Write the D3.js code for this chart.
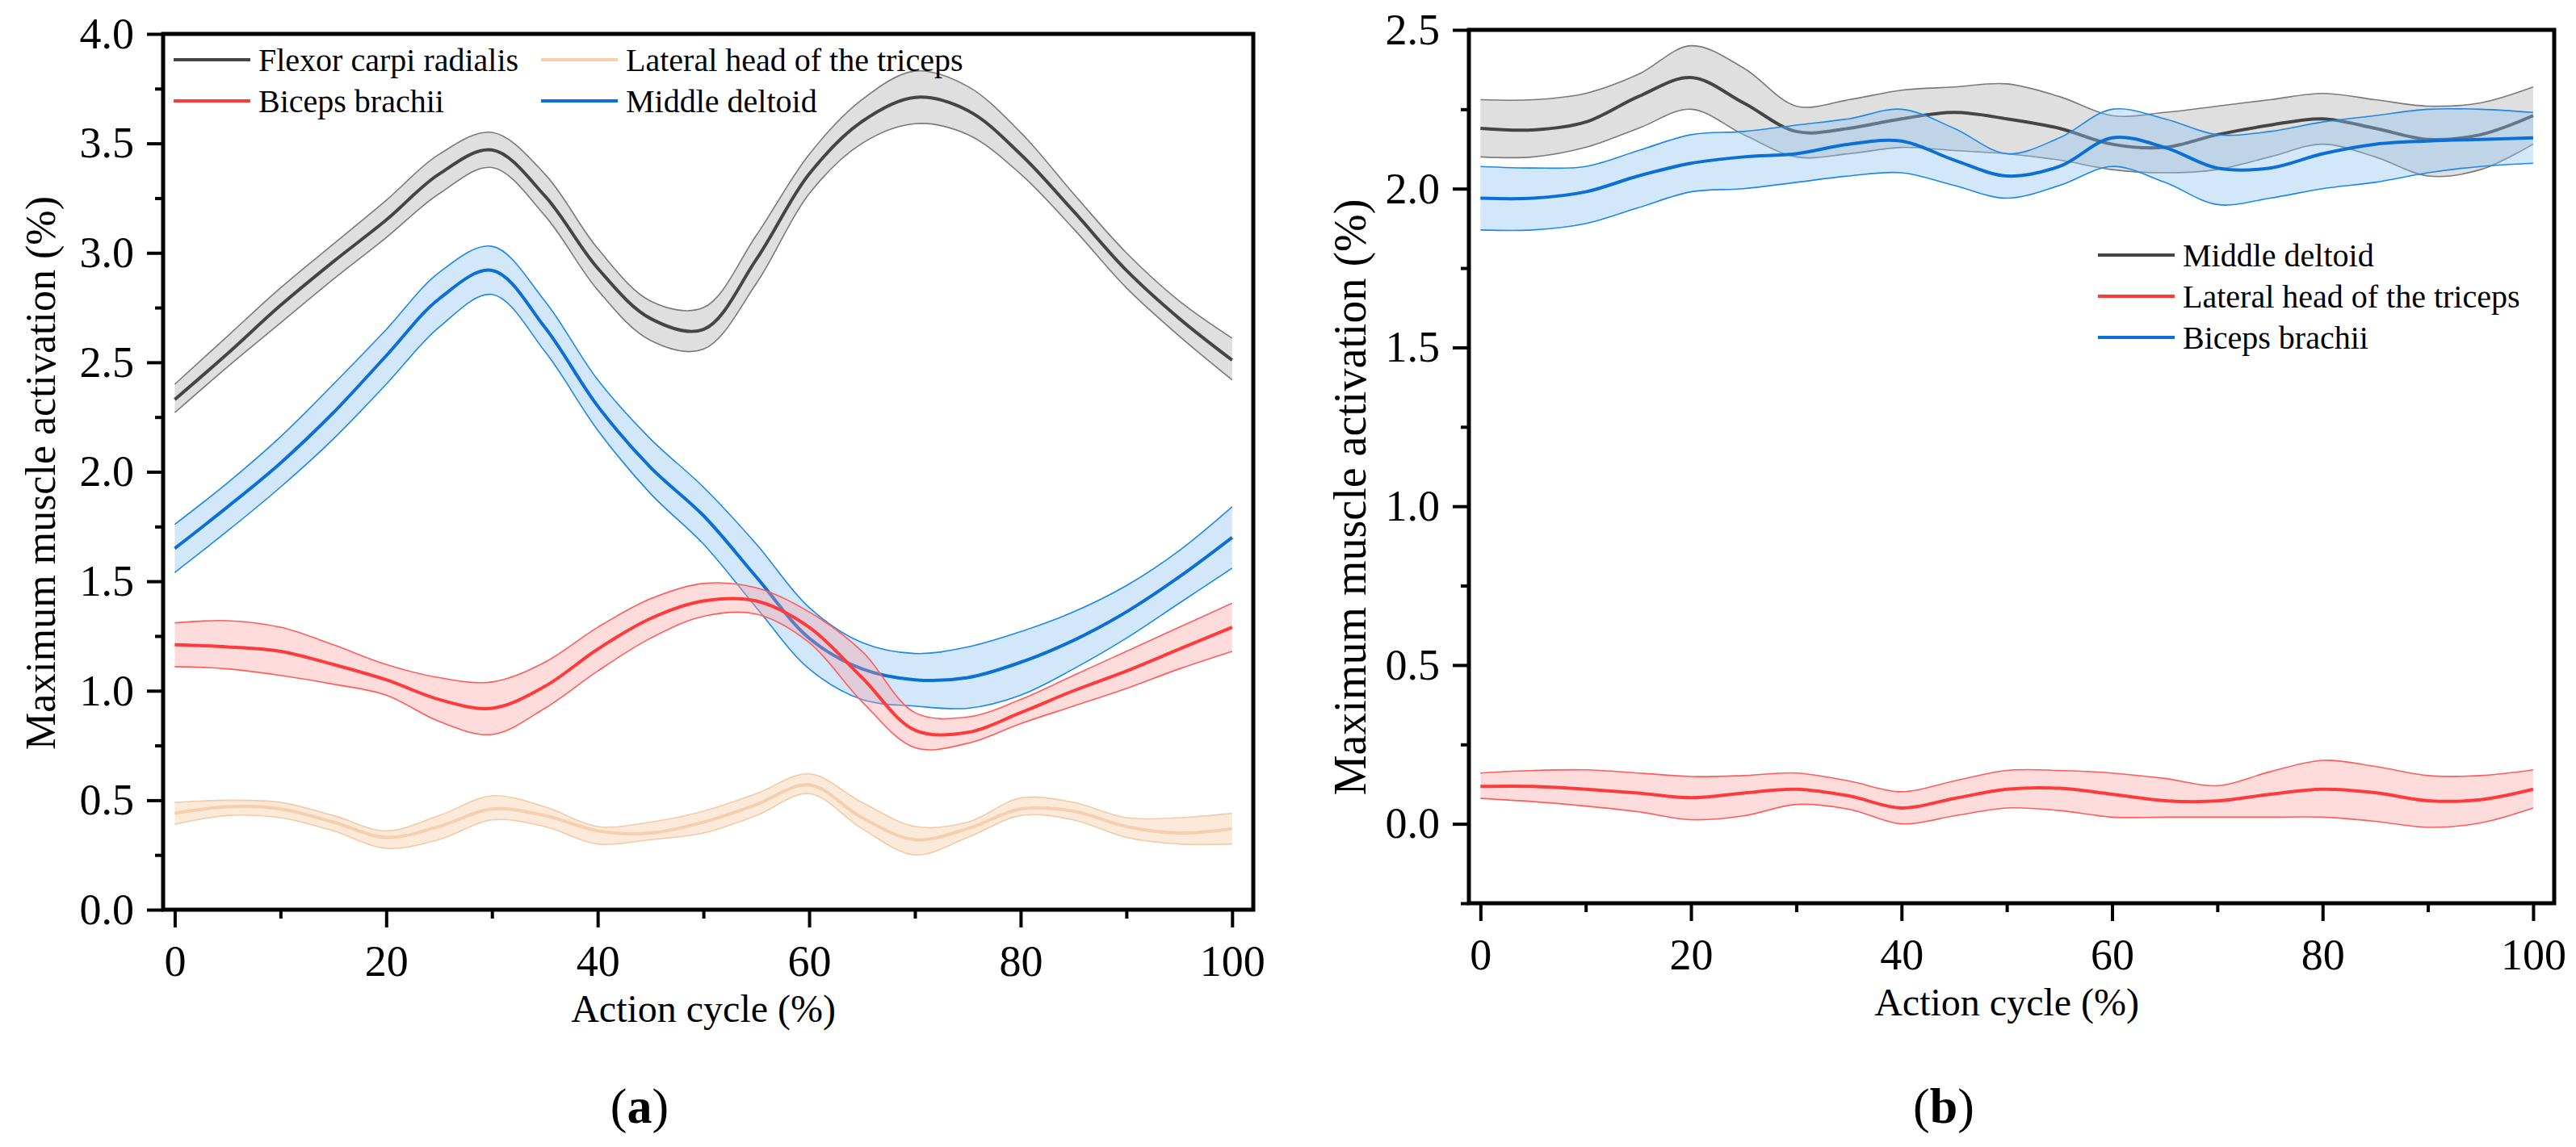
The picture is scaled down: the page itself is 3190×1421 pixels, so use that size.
<!DOCTYPE html>
<html>
<head>
<meta charset="utf-8">
<script src="https://cdn.jsdelivr.net/npm/d3@7"></script>
<style>
  body { margin: 0; background: #fff; }
</style>
</head>
<body>
<div id="chart"></div>
<script>
// Action cycle sample points (%)
var cycle = [0, 5, 10, 15, 20, 25, 30, 35, 40, 45, 50, 55, 60, 65, 70, 75, 80, 85, 90, 95, 100];

// Panel (a)
var flexorMean  = [2.33, 2.54, 2.76, 2.96, 3.15, 3.36, 3.47, 3.26, 2.93, 2.70, 2.65, 2.97, 3.36, 3.60, 3.71, 3.65, 3.45, 3.19, 2.92, 2.70, 2.51];
var flexorUpper = [2.40, 2.62, 2.84, 3.04, 3.24, 3.45, 3.55, 3.36, 3.02, 2.78, 2.75, 3.08, 3.45, 3.70, 3.83, 3.76, 3.55, 3.27, 3.00, 2.78, 2.61];
var flexorLower = [2.27, 2.48, 2.68, 2.88, 3.07, 3.27, 3.39, 3.17, 2.83, 2.60, 2.56, 2.86, 3.27, 3.50, 3.59, 3.54, 3.36, 3.11, 2.84, 2.62, 2.42];

var deltoidMean  = [1.65, 1.84, 2.04, 2.27, 2.53, 2.79, 2.92, 2.66, 2.30, 2.02, 1.80, 1.52, 1.24, 1.10, 1.05, 1.06, 1.13, 1.23, 1.36, 1.52, 1.70];
var deltoidUpper = [1.76, 1.95, 2.16, 2.40, 2.65, 2.91, 3.03, 2.78, 2.42, 2.15, 1.93, 1.67, 1.38, 1.22, 1.17, 1.20, 1.27, 1.36, 1.48, 1.64, 1.84];
var deltoidLower = [1.54, 1.73, 1.93, 2.15, 2.40, 2.66, 2.81, 2.55, 2.19, 1.90, 1.67, 1.38, 1.10, 0.96, 0.93, 0.92, 0.98, 1.10, 1.24, 1.40, 1.56];

var bicepsMean  = [1.21, 1.20, 1.18, 1.12, 1.05, 0.96, 0.92, 1.02, 1.19, 1.33, 1.41, 1.41, 1.29, 1.06, 0.82, 0.81, 0.90, 1.00, 1.09, 1.19, 1.29];
var bicepsUpper = [1.31, 1.32, 1.29, 1.21, 1.12, 1.06, 1.04, 1.13, 1.29, 1.42, 1.49, 1.47, 1.36, 1.18, 0.90, 0.88, 0.96, 1.07, 1.18, 1.29, 1.40];
var bicepsLower = [1.11, 1.10, 1.07, 1.03, 0.98, 0.86, 0.80, 0.92, 1.09, 1.24, 1.34, 1.35, 1.22, 0.95, 0.74, 0.76, 0.85, 0.93, 1.01, 1.10, 1.18];

var tricepsMean  = [0.44, 0.47, 0.46, 0.40, 0.33, 0.38, 0.46, 0.43, 0.36, 0.35, 0.40, 0.48, 0.57, 0.42, 0.32, 0.37, 0.46, 0.45, 0.38, 0.35, 0.37];
var tricepsUpper = [0.49, 0.50, 0.49, 0.43, 0.36, 0.43, 0.52, 0.47, 0.38, 0.40, 0.45, 0.53, 0.62, 0.49, 0.38, 0.40, 0.51, 0.49, 0.42, 0.42, 0.44];
var tricepsLower = [0.39, 0.43, 0.42, 0.36, 0.28, 0.32, 0.41, 0.38, 0.30, 0.32, 0.35, 0.43, 0.53, 0.37, 0.25, 0.33, 0.43, 0.41, 0.33, 0.30, 0.30];

// Panel (b)
var bDeltoidMean  = [2.19, 2.185, 2.21, 2.29, 2.35, 2.27, 2.18, 2.19, 2.22, 2.24, 2.22, 2.19, 2.14, 2.13, 2.17, 2.20, 2.22, 2.19, 2.155, 2.17, 2.23];
var bDeltoidUpper = [2.28, 2.28, 2.30, 2.36, 2.45, 2.38, 2.26, 2.28, 2.31, 2.32, 2.33, 2.29, 2.23, 2.24, 2.26, 2.28, 2.30, 2.28, 2.26, 2.27, 2.32];
var bDeltoidLower = [2.10, 2.10, 2.13, 2.19, 2.25, 2.17, 2.10, 2.11, 2.13, 2.12, 2.11, 2.09, 2.06, 2.05, 2.06, 2.10, 2.14, 2.10, 2.04, 2.06, 2.14];

var bTricepsMean  = [0.118, 0.118, 0.109, 0.097, 0.082, 0.097, 0.109, 0.088, 0.050, 0.080, 0.109, 0.112, 0.093, 0.073, 0.072, 0.093, 0.109, 0.098, 0.073, 0.076, 0.109];
var bTricepsUpper = [0.160, 0.168, 0.170, 0.160, 0.149, 0.152, 0.160, 0.135, 0.101, 0.135, 0.168, 0.168, 0.160, 0.143, 0.120, 0.164, 0.200, 0.181, 0.152, 0.152, 0.170];
var bTricepsLower = [0.080, 0.070, 0.056, 0.038, 0.013, 0.025, 0.061, 0.046, 0.000, 0.025, 0.050, 0.042, 0.021, 0.021, 0.021, 0.021, 0.021, 0.008, -0.011, 0.003, 0.050];

var bBicepsMean  = [1.97, 1.97, 1.99, 2.04, 2.08, 2.10, 2.11, 2.14, 2.15, 2.09, 2.04, 2.07, 2.16, 2.13, 2.065, 2.065, 2.11, 2.14, 2.15, 2.155, 2.16];
var bBicepsUpper = [2.07, 2.065, 2.07, 2.12, 2.17, 2.18, 2.20, 2.22, 2.25, 2.19, 2.11, 2.16, 2.25, 2.22, 2.17, 2.18, 2.21, 2.23, 2.25, 2.25, 2.24];
var bBicepsLower = [1.87, 1.87, 1.89, 1.94, 1.99, 2.00, 2.02, 2.04, 2.05, 2.01, 1.97, 2.01, 2.07, 2.02, 1.95, 1.97, 2.00, 2.02, 2.05, 2.07, 2.08];

// Tick labels
var xTicks = [0, 20, 40, 60, 80, 100];
var xMinorTicks = [10, 30, 50, 70, 90];
var yTicksA = [0, 0.5, 1, 1.5, 2, 2.5, 3, 3.5, 4];
var yTicksB = [0, 0.5, 1, 1.5, 2, 2.5];

// Colours per muscle: line, band fill, band edge
var styles = {
  gray:  { line: "#454545", fill: "#c4c4c4", fillOpacity: 0.55, edge: "#7a7a7a" },
  blue:  { line: "#0a6fd6", fill: "#8ec3f3", fillOpacity: 0.4,  edge: "#1e88e8" },
  red:   { line: "#ff3a3a", fill: "#ff9a9a", fillOpacity: 0.35, edge: "#ff5c5c" },
  peach: { line: "#f5cfae", fill: "#f6c9a0", fillOpacity: 0.4,  edge: "#f3cba8" }
};

var width = 3190, height = 1421;

var svg = d3.select("#chart")
    .append("svg")
    .attr("width", width)
    .attr("height", height);

function drawPanel(p) {
    var x = d3.scaleLinear().domain([-1.1, 102]).range([p.left, p.right]);
    var y = d3.scaleLinear().domain(p.yDomain).range([p.bottom, p.top]);
    var g = svg.append("g");

    var area = d3.area()
        .curve(d3.curveCatmullRom.alpha(0.5))
        .x(function (d) { return x(d.x); })
        .y0(function (d) { return y(d.lo); })
        .y1(function (d) { return y(d.hi); });
    var line = d3.line()
        .curve(d3.curveCatmullRom.alpha(0.5))
        .x(function (d) { return x(d.x); })
        .y(function (d) { return y(d.v); });

    p.series.forEach(function (s) {
        var st = styles[s.style];
        var rows = cycle.map(function (c, i) {
            return { x: c, v: s.mean[i], hi: s.upper[i], lo: s.lower[i] };
        });
        g.append("path").datum(rows)
            .attr("d", area)
            .attr("fill", st.fill)
            .attr("fill-opacity", st.fillOpacity)
            .attr("stroke", "none");
        ["hi", "lo"].forEach(function (k) {
            g.append("path").datum(rows)
                .attr("d", d3.line().curve(d3.curveCatmullRom.alpha(0.5))
                    .x(function (d) { return x(d.x); })
                    .y(function (d) { return y(d[k]); }))
                .attr("fill", "none")
                .attr("stroke", st.edge)
                .attr("stroke-width", 1.6);
        });
        g.append("path").datum(rows)
            .attr("d", line)
            .attr("fill", "none")
            .attr("stroke", st.line)
            .attr("stroke-width", 4);
    });

    // frame
    g.append("rect")
        .attr("x", p.left).attr("y", p.top)
        .attr("width", p.right - p.left).attr("height", p.bottom - p.top)
        .attr("fill", "none").attr("stroke", "#000").attr("stroke-width", 5);

    // y axis, major and minor
    var yMinor = d3.range(p.yDomain[0], p.yDomain[1] + 0.001, 0.25).filter(function (v) {
        return Math.abs((v * 2) - Math.round(v * 2)) > 0.01;
    });
    g.append("g")
        .attr("transform", "translate(" + p.left + ",0)")
        .call(d3.axisLeft(y).tickValues(yMinor).tickSize(10).tickFormat(""))
        .call(styleAxis);
    g.append("g")
        .attr("transform", "translate(" + p.left + ",0)")
        .call(d3.axisLeft(y).tickValues(p.yTicks).tickSize(20).tickPadding(16)
            .tickFormat(d3.format(".1f")))
        .call(styleAxis);

    // x axis, major and minor
    g.append("g")
        .attr("transform", "translate(0," + p.bottom + ")")
        .call(d3.axisBottom(x).tickValues(xMinorTicks).tickSize(11).tickFormat(""))
        .call(styleAxis);
    g.append("g")
        .attr("transform", "translate(0," + p.bottom + ")")
        .call(d3.axisBottom(x).tickValues(xTicks).tickSize(22).tickPadding(22))
        .call(styleAxis);

    // axis titles
    g.append("text")
        .attr("x", (x(0) + x(100)) / 2)
        .attr("y", p.bottom + 122)
        .attr("text-anchor", "middle")
        .attr("dominant-baseline", "central")
        .style("font-size", "48px")
        .text("Action cycle (%)");
    g.append("text")
        .attr("transform", "translate(" + p.yTitleX + "," + p.yTitleY + ") rotate(-90)")
        .attr("text-anchor", "middle")
        .attr("dominant-baseline", "central")
        .style("font-size", p.yTitleSize + "px")
        .text("Maximum muscle activation (%)");

    // panel letter
    var lab = g.append("text")
        .attr("x", p.letterX)
        .attr("y", 1370)
        .attr("text-anchor", "middle")
        .attr("dominant-baseline", "central")
        .style("font-size", "62px");
    lab.append("tspan").text("(");
    lab.append("tspan").style("font-weight", "bold").text(p.letter);
    lab.append("tspan").text(")");

    // legend
    p.legend.forEach(function (l) {
        var st = styles[l.style];
        g.append("line")
            .attr("x1", l.x).attr("x2", l.x + 95)
            .attr("y1", l.y).attr("y2", l.y)
            .attr("stroke", st.line).attr("stroke-width", 4);
        g.append("text")
            .attr("x", l.x + 105).attr("y", l.y)
            .attr("dominant-baseline", "central")
            .style("font-size", "40px")
            .text(l.name);
    });
}

function styleAxis(sel) {
    sel.select(".domain").remove();
    sel.selectAll(".tick line").attr("stroke", "#000").attr("stroke-width", 4);
    sel.selectAll(".tick text").style("font-size", "54px");
}

drawPanel({
    left: 202, right: 1552, top: 42, bottom: 1127,
    yDomain: [0, 4], yTicks: yTicksA,
    yTitleX: 50, yTitleY: 586, yTitleSize: 52,
    letter: "a", letterX: 792,
    series: [
        { style: "gray",  mean: flexorMean,  upper: flexorUpper,  lower: flexorLower },
        { style: "blue",  mean: deltoidMean, upper: deltoidUpper, lower: deltoidLower },
        { style: "red",   mean: bicepsMean,  upper: bicepsUpper,  lower: bicepsLower },
        { style: "peach", mean: tricepsMean, upper: tricepsUpper, lower: tricepsLower }
    ],
    legend: [
        { style: "gray",  name: "Flexor carpi radialis",        x: 215, y: 74 },
        { style: "red",   name: "Biceps brachii",               x: 215, y: 125 },
        { style: "peach", name: "Lateral head of the triceps",  x: 670, y: 74 },
        { style: "blue",  name: "Middle deltoid",               x: 670, y: 125 }
    ]
});

drawPanel({
    left: 1819, right: 3163, top: 37, bottom: 1119,
    yDomain: [-0.25, 2.5], yTicks: yTicksB,
    yTitleX: 1672, yTitleY: 616, yTitleSize: 56,
    letter: "b", letterX: 2407,
    series: [
        { style: "gray", mean: bDeltoidMean, upper: bDeltoidUpper, lower: bDeltoidLower },
        { style: "red",  mean: bTricepsMean, upper: bTricepsUpper, lower: bTricepsLower },
        { style: "blue", mean: bBicepsMean,  upper: bBicepsUpper,  lower: bBicepsLower }
    ],
    legend: [
        { style: "gray", name: "Middle deltoid",              x: 2598, y: 316 },
        { style: "red",  name: "Lateral head of the triceps", x: 2598, y: 367 },
        { style: "blue", name: "Biceps brachii",              x: 2598, y: 418 }
    ]
});

// one serif face for every label, set last so it beats the axis defaults
svg.selectAll("text")
    .attr("font-family", null)
    .style("font-family", "'Liberation Serif'")
    .style("fill", "#000");
svg.selectAll("g").attr("font-family", null);
</script>
</body>
</html>
